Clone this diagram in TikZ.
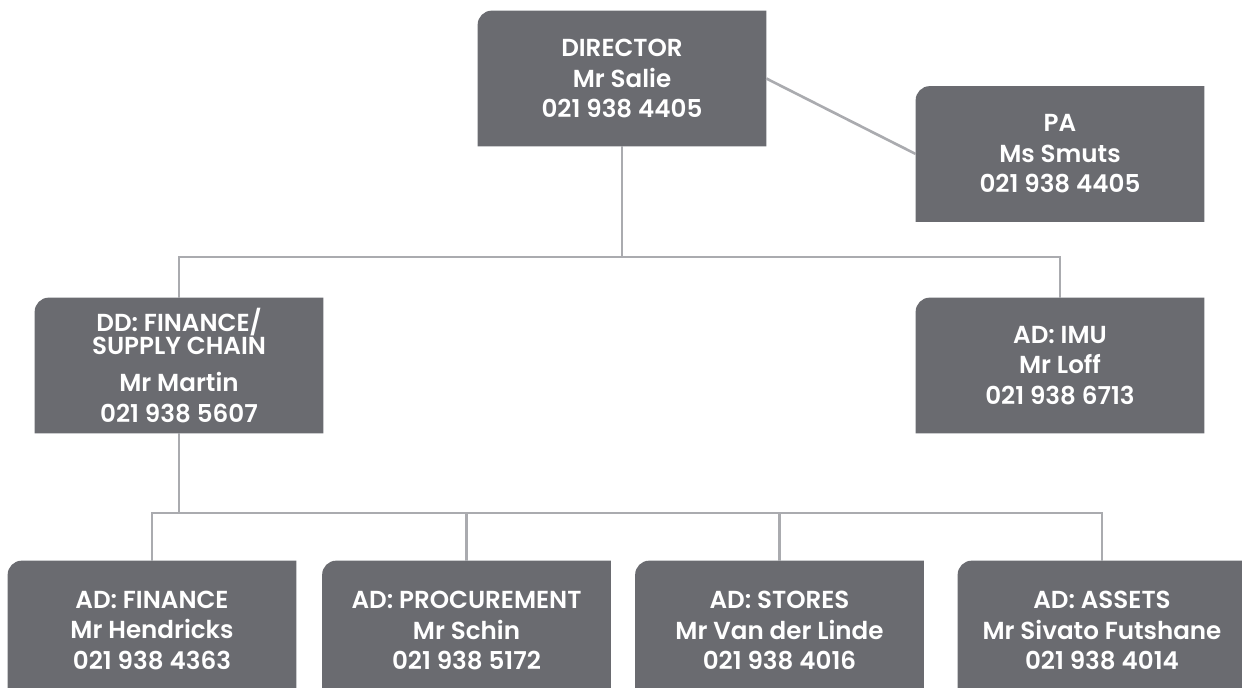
\documentclass[tikz,border=0pt]{standalone}
\usepackage{fontspec}
\setmainfont{Poppins}[BoldFont={Poppins SemiBold}]
\usetikzlibrary{positioning,backgrounds}
\definecolor{boxgrey}{RGB}{106,107,112}
\definecolor{linegrey}{RGB}{170,171,175}

\begin{document}
\begin{tikzpicture}[x=0.02cm,y=-0.02cm,
	unit/.style={inner sep=0pt, minimum width=5.76cm, minimum height=2.7cm, align=center,
		text=white, font=\fontsize{14}{17.4}\selectfont\bfseries},
	low/.style={unit, minimum height=2.78cm},
	link/.style={draw=linegrey, line width=1.5pt}]
	\useasboundingbox (0,0) rectangle (1242,688);
	\node [unit] (dir) at (622,78.5) {DIRECTOR\\Mr Salie\\021 938 4405};
	\node [unit] (pa) at (1060,154) {PA\\Ms Smuts\\021 938 4405};
	\node [unit] (dd) at (179,365.5) {DD: FINANCE/\\[-4.5pt]SUPPLY CHAIN\\[4pt]Mr Martin\\021 938 5607};
	\node [unit] (imu) at (1060,365.5) {AD: IMU\\Mr Loff\\021 938 6713};
	\node [low] (fin) at (152,630.5) {AD: FINANCE\\Mr Hendricks\\021 938 4363};
	\node [low] (proc) at (466.5,630.5) {AD: PROCUREMENT\\Mr Schin\\021 938 5172};
	\node [low] (sto) at (779.5,630.5) {AD: STORES\\Mr Van der Linde\\021 938 4016};
	\node [low] (ass) at (1102,630.5) {AD: ASSETS\\Mr Sivato Futshane\\021 938 4014};
	\begin{scope}[on background layer]
		\foreach \n in {dir,pa,dd,imu,fin,proc,sto,ass}
			\fill [boxgrey] (\n.south west) [rounded corners=0.28cm] -- (\n.north west) [sharp corners] -- (\n.north east) -- (\n.south east) -- cycle;
	\end{scope}
	\coordinate (bus1) at (622,257);
	\coordinate (bus2) at (179,513);
	\draw [link] (dir.east) -- (pa.west);
	\draw [link] (dir) -- (bus1);
	\draw [link] (dd.north) |- (bus1) -| (imu.north);
	\draw [link] (dd) -- (bus2);
	\draw [link] (fin.north) |- (bus2) -| (ass.north);
	\draw [link] (proc.north) -- (proc.north |- bus2);
	\draw [link] (sto.north) -- (sto.north |- bus2);
\end{tikzpicture}
\end{document}
